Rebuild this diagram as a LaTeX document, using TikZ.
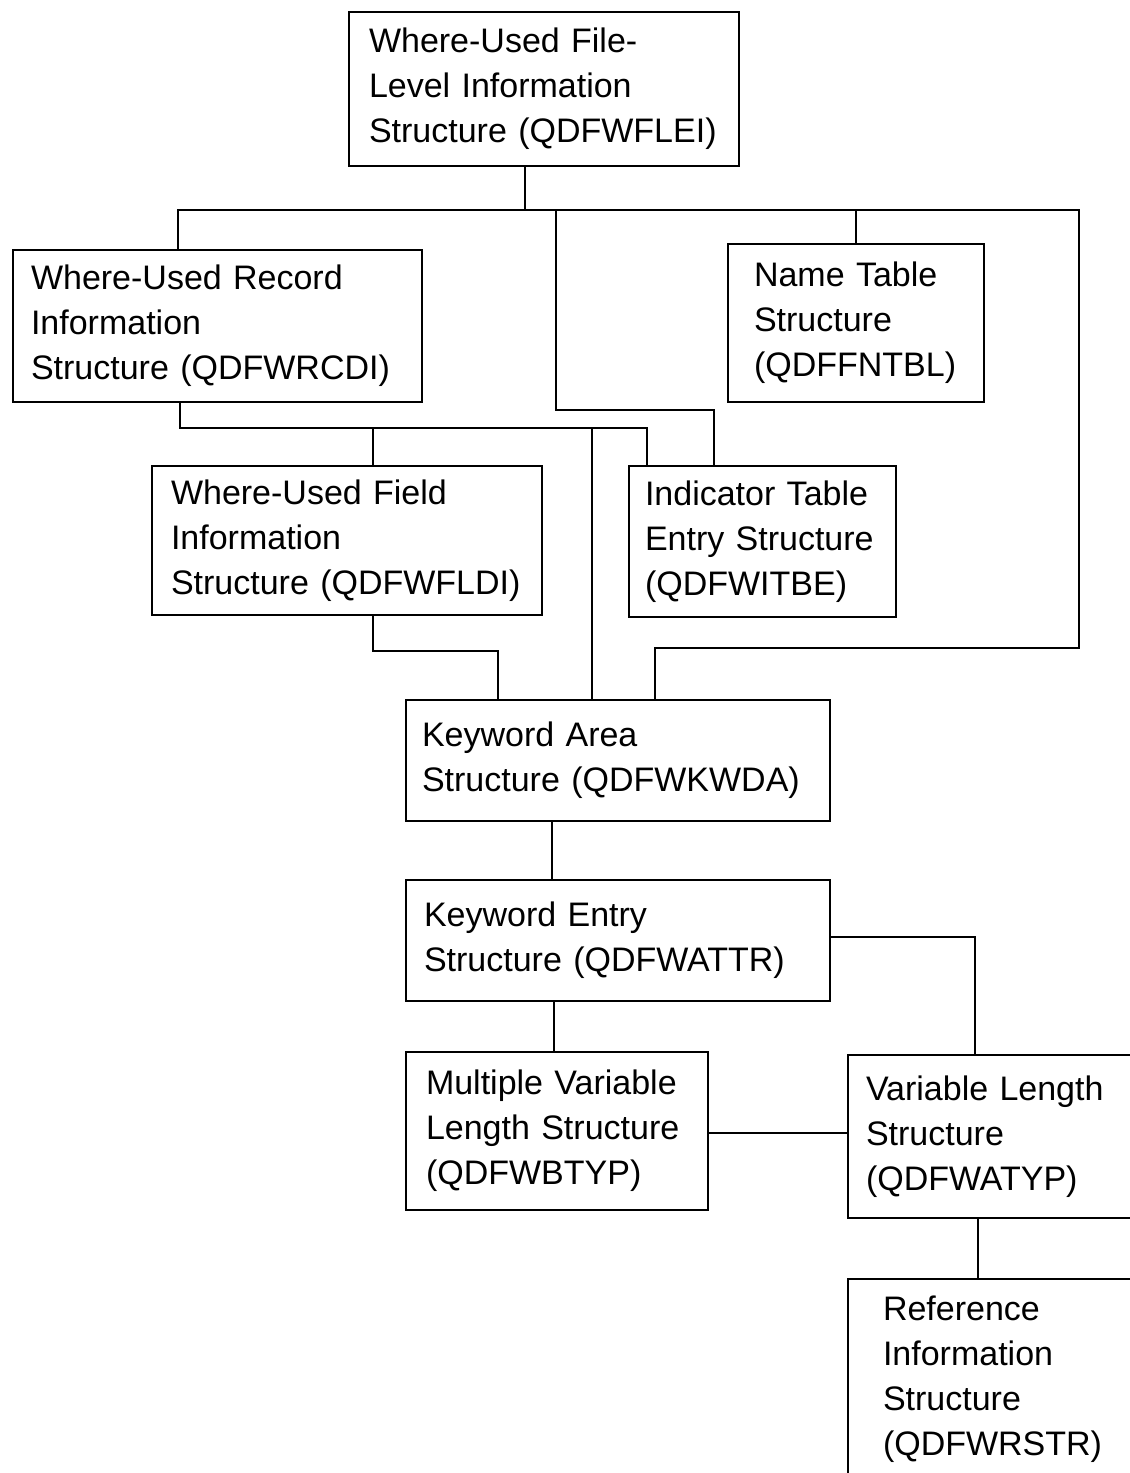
\documentclass[tikz,border=0pt]{standalone}
\usepackage{fontspec}
\setmainfont{Liberation Sans}
\hyphenpenalty=10000
\exhyphenpenalty=10000
\tikzset{
  strbox/.style={draw, line width=2pt, anchor=north west, align=left,
    inner ysep=0pt, font=\fontsize{34}{45}\selectfont},
  link/.style={line width=2pt}
}
\begin{document}
\begin{tikzpicture}[x=1pt, y=-1pt]
\useasboundingbox (0,0) rectangle (1130,1473);
\clip (0,0) rectangle (1130,1473);

\node[strbox, inner xsep=20pt, text width=350pt, minimum height=154pt] (fle) at (348,11) {Where-Used File-\\Level Information\\Structure (QDFWFLEI)};
\node[strbox, inner xsep=18pt, text width=373pt, minimum height=152pt] (rcd) at (12,249) {Where-Used Record\\Information\\Structure (QDFWRCDI)};
\node[strbox, inner xsep=26pt, text width=204pt, minimum height=158pt] (ntbl) at (727,243) {Name Table\\Structure\\(QDFFNTBL)};
\node[strbox, inner xsep=19pt, text width=352pt, minimum height=149pt] (fld) at (151,465) {Where-Used Field\\Information\\Structure (QDFWFLDI)};
\node[strbox, inner xsep=16pt, text width=235pt, minimum height=151pt] (itbe) at (628,465) {Indicator Table\\Entry Structure\\(QDFWITBE)};
\node[strbox, inner xsep=16pt, text width=392pt, minimum height=121pt] (kwda) at (405,699) {Keyword Area\\Structure (QDFWKWDA)};
\node[strbox, inner xsep=18pt, text width=388pt, minimum height=121pt] (attr) at (405,879) {Keyword Entry\\Structure (QDFWATTR)};
\node[strbox, inner xsep=20pt, text width=262pt, minimum height=158pt] (btyp) at (405,1051) {Multiple Variable\\Length Structure\\(QDFWBTYP)};
\node[strbox, inner xsep=18pt, text width=264pt, minimum height=163pt] (atyp) at (847,1054) {Variable Length\\Structure\\(QDFWATYP)};
\node[strbox, inner xsep=35pt, text width=230pt, minimum height=201pt] (rstr) at (847,1278) {Reference\\Information\\Structure\\(QDFWRSTR)};

\coordinate (b1) at (525,210);
\coordinate (busL) at (178,210);
\coordinate (busR) at (1079,210);
\coordinate (kwR) at (655,648);
\coordinate (itL) at (556,410);
\coordinate (itR) at (714,410);
\coordinate (rcL) at (180,428);
\coordinate (rcR) at (647,428);
\coordinate (fx) at (373,428);
\coordinate (kx) at (592,428);
\coordinate (fk) at (498,651);
\coordinate (c1) at (552,850);
\coordinate (c2) at (554,1025);
\coordinate (c3) at (975,937);
\coordinate (c5) at (780,1133);
\coordinate (c4) at (978,1250);

\draw[link] (fle.south -| b1) -- (b1);
\draw[link] (rcd.north -| busL) -- (busL) -- (busR) |- (kwR) -- (kwda.north -| kwR);
\draw[link] (ntbl.north) -- (ntbl.north |- busR);
\draw[link] (busL -| itL) -- (itL) -- (itR) -- (itbe.north -| itR);
\draw[link] (rcd.south -| rcL) -- (rcL) -- (rcR) -- (itbe.north -| rcR);
\draw[link] (fx) -- (fld.north -| fx);
\draw[link] (kx) -- (kwda.north -| kx);
\draw[link] (fld.south -| fx) |- (fk) -- (kwda.north -| fk);
\draw[link] (kwda.south -| c1) -- (attr.north -| c1);
\draw[link] (attr.south -| c2) -- (btyp.north -| c2);
\draw[link] (attr.east |- c3) -| (atyp.north -| c3);
\draw[link] (btyp.east |- c5) -- (atyp.west |- c5);
\draw[link] (atyp.south -| c4) -- (rstr.north -| c4);
\end{tikzpicture}
\end{document}
